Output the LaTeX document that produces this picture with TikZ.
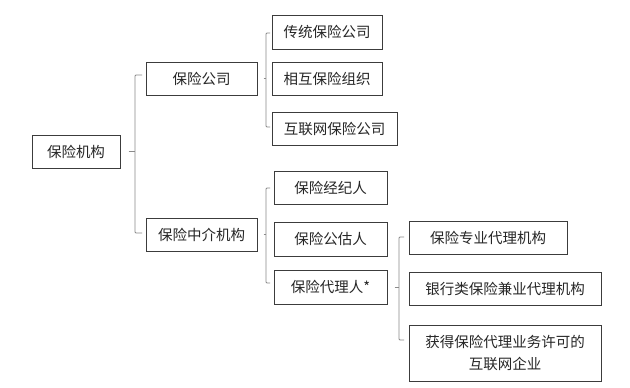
\documentclass[tikz,border=0pt]{standalone}
\usepackage{fontspec}
\newfontfamily\cjk{Noto Sans CJK SC}
\usetikzlibrary{calc}
\definecolor{boxline}{HTML}{3C3C3C}
\definecolor{brkline}{HTML}{8A8A8A}
\definecolor{txt}{HTML}{262626}

\begin{document}
\begin{tikzpicture}[x=1pt,y=-1pt,
		box/.style={draw=boxline,line width=1pt,text=txt,inner sep=0pt,
			minimum height=33pt,align=center,
			font=\cjk\fontsize{14.5}{22}\selectfont},
		brk/.style={draw=brkline,line width=0.9pt,rounded corners=1pt}]
		\useasboundingbox[fill=white] (0,0) rectangle (630,388);
		
		% 第一层
		\node[box,minimum width=88pt] (root) at (76,151.5) {保险机构};
		
		% 第二层
		\node[box,minimum width=111pt] (ins) at (201.5,78.5) {保险公司};
		\node[box,minimum width=111pt] (inter) at (201.5,234.5) {保险中介机构};
		
		% 第三层
		\node[box,minimum width=110pt,minimum height=34pt] (trad) at (327,32) {传统保险公司};
		\node[box,minimum width=110pt] (mutual) at (327,78.5) {相互保险组织};
		\node[box,minimum width=125pt] (net) at (334.5,128.5) {互联网保险公司};
		\node[box,minimum width=113pt] (broker) at (330.5,187.5) {保险经纪人};
		\node[box,minimum width=113pt,minimum height=34pt] (adjuster) at (330.5,239) {保险公估人};
		\node[box,minimum width=113pt,minimum height=34pt] (agent) at (330.5,287) {保险代理人*};
		
		% 第四层
		\node[box,minimum width=158pt] (pro) at (488,237.5) {保险专业代理机构};
		\node[box,minimum width=192pt] (bank) at (505,288.5) {银行类保险兼业代理机构};
		\node[box,minimum width=192pt,minimum height=56pt] (web) at (505,353) {获得保险代理业务许可的\\互联网企业};
		
		% 括号端点
		\coordinate (b1t) at (135,75);
		\coordinate (b1b) at (135,233);
		\coordinate (b2t) at (266,33);
		\coordinate (b2b) at (266,127);
		\coordinate (b3t) at (266,188);
		\coordinate (b3b) at (266,283);
		\coordinate (b4t) at (399,237);
		\coordinate (b4b) at (399,340);
		
		% 括号
		\draw[brk] ($(root.east)+(8,0)$) -- (root.east -| b1t);
		\draw[brk] ($(b1t)+(7,0)$) -- (b1t) -- (b1b) -- ($(b1b)+(7,0)$);
		
		\draw[brk] ($(ins.east)+(6,0)$) -- (ins.east -| b2t);
		\draw[brk] ($(b2t)+(4,0)$) -- (b2t) -- (b2b) -- ($(b2b)+(4,0)$);
		
		\draw[brk] ($(inter.east)+(6,0)$) -- (inter.east -| b3t);
		\draw[brk] ($(b3t)+(4,0)$) -- (b3t) -- (b3b) -- ($(b3b)+(4,0)$);
		
		\draw[brk] ($(agent.east)+(7,0)$) -- (agent.east -| b4t);
		\draw[brk] ($(b4t)+(5,0)$) -- (b4t) -- (b4b) -- ($(b4b)+(5,0)$);
		
	\end{tikzpicture}
\end{document}
